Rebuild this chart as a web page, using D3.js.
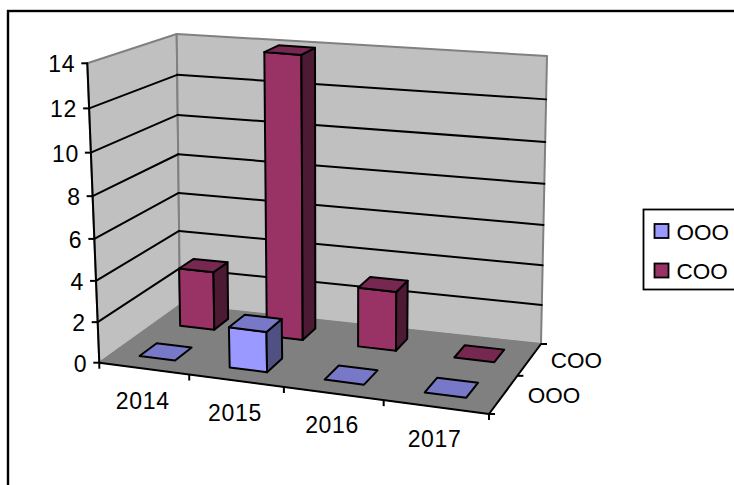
<!DOCTYPE html>
<html>
<head>
<meta charset="utf-8">
<script src="https://cdn.jsdelivr.net/npm/d3@7"></script>
<style>
html,body{margin:0;padding:0;background:#fff;overflow:hidden}
svg{display:block}
text{font-family:"Liberation Sans",Arial,sans-serif;font-size:22.5px;fill:#000}
text.num{font-size:23px;letter-spacing:0.7px}
</style>
</head>
<body>
<svg width="734" height="485"></svg>
<script>
const years=["2014","2015","2016","2017"];
const seriesNames=["OOO","COO"];
const oooValues=[0,2,0,0];
const cooValues=[3,14,3,0];
const valueTicks=[0,2,4,6,8,10,12,14];
const colors={OOO:["#9999FF","#7878C8","#505082"],COO:["#993366","#772850","#4D1A33"]};

const svg=d3.select("svg");

//OUTER BORDER
svg.append("rect").attr("x",8).attr("y",11).attr("width",760).attr("height",520)
   .attr("fill","#fff").attr("stroke","#000").attr("stroke-width",2.4);

//SCALES (all run 0..1 inside the plot box)
const xBand=d3.scaleBand().domain(years).range([0,1]);
const zBand=d3.scaleBand().domain(seriesNames).range([0,1]);
const xBar=d3.scaleBand().domain(years).range([0,1]).paddingInner(0.6).paddingOuter(0.3);
const zBar=d3.scaleBand().domain(seriesNames).range([0,1]).paddingInner(0.6).paddingOuter(0.3);
const yScale=d3.scaleLinear().domain([0,14]).range([0,1]);

//corners of the 3d box on screen: c[x][depth][height]
const c=[[[[99.3,362.7],[87.3,63.3]],[[180,305],[176.7,34]]],
         [[[489,414],[493.6,110]],[[541,344],[547,56]]]];
const warp=(t,k)=>k*t/(1+(k-1)*t);
function project(x,z,y){
   const u=warp(x,0.9), v=warp(z,1.2), w=warp(y,0.94);
   const p=[0,1].map(i=>d3.interpolate(
      d3.interpolate(
         d3.interpolate(c[0][0][0][i],c[1][0][0][i])(u),
         d3.interpolate(c[0][1][0][i],c[1][1][0][i])(u))(v),
      d3.interpolate(
         d3.interpolate(c[0][0][1][i],c[1][0][1][i])(u),
         d3.interpolate(c[0][1][1][i],c[1][1][1][i])(u))(v))(w));
   return p;
}
const poly=pts=>d3.line()(pts.map(d=>project(d[0],d[1],d[2])))+"Z";
const seg=(g,a,b,color,width)=>{
   const p=project(...a), q=project(...b);
   g.append("line").attr("x1",p[0]).attr("y1",p[1]).attr("x2",q[0]).attr("y2",q[1])
    .attr("stroke",color).attr("stroke-width",width).attr("stroke-linecap","round");
};

//WALLS AND FLOOR
const walls=svg.append("g");
walls.append("path").attr("d",poly([[0,0,0],[0,1,0],[0,1,1],[0,0,1]]))
     .attr("fill","#C0C0C0").attr("stroke","#808080").attr("stroke-width",2).attr("stroke-linejoin","round");
walls.append("path").attr("d",poly([[0,1,0],[1,1,0],[1,1,1],[0,1,1]]))
     .attr("fill","#C0C0C0").attr("stroke","#808080").attr("stroke-width",2).attr("stroke-linejoin","round");
walls.append("path").attr("d",poly([[0,0,0],[1,0,0],[1,1,0],[0,1,0]]))
     .attr("fill","#808080").attr("stroke","#808080").attr("stroke-width",1);

//GRIDLINES
const grid=svg.append("g");
valueTicks.slice(1,-1).forEach(t=>{
   seg(grid,[0,0,yScale(t)],[0,1,yScale(t)],"#000",2);
   seg(grid,[0,1,yScale(t)],[1,1,yScale(t)],"#000",2);
});

//AXES
const axes=svg.append("g");
seg(axes,[0,0,0],[0,0,1],"#000",2);
seg(axes,[0,0,0],[1,0,0],"#000",2);
seg(axes,[1,0,0],[1,1,0],"#000",2);

//Y TICKS
valueTicks.forEach(t=>{
   const p=project(0,0,yScale(t));
   axes.append("line").attr("x1",p[0]-6).attr("y1",p[1]).attr("x2",p[0]).attr("y2",p[1])
       .attr("stroke","#000").attr("stroke-width",2);
   svg.append("text").attr("class","num").attr("x",p[0]-12).attr("y",p[1]+9).attr("text-anchor","end").text(t);
});

//X TICKS
[0,1,2,3,4].forEach(i=>{
   const p=project(i/4,0,0);
   axes.append("line").attr("x1",p[0]).attr("y1",p[1]).attr("x2",p[0]).attr("y2",p[1]+6)
       .attr("stroke","#000").attr("stroke-width",2);
});
years.forEach(d=>{
   const p=project(xBand(d)+xBand.bandwidth()/2,0,0);
   svg.append("text").attr("class","num").attr("x",p[0]-1).attr("y",p[1]+40).attr("text-anchor","middle").text(d);
});

//DEPTH TICKS
[0,1,2].forEach(i=>{
   const p=project(1,i/2,0);
   axes.append("line").attr("x1",p[0]).attr("y1",p[1]).attr("x2",p[0]+6).attr("y2",p[1])
       .attr("stroke","#000").attr("stroke-width",2);
});
const depthLabelDx=d3.scalePoint().domain(seriesNames).range([24,21]);
seriesNames.forEach(d=>{
   const p=project(1,zBand(d)+zBand.bandwidth()/2,0);
   svg.append("text").attr("x",p[0]+depthLabelDx(d)).attr("y",p[1]+9).text(d);
});

//BARS, back series first
const bars=svg.append("g");
const seriesValues={OOO:oooValues,COO:cooValues};
seriesNames.slice().reverse().forEach(name=>{
   years.forEach((yr,i)=>{
      const x0=xBar(yr), x1=x0+xBar.bandwidth();
      const z0=zBar(name), z1=z0+zBar.bandwidth();
      const h=yScale(seriesValues[name][i]);
      const col=colors[name];
      const faces=[
         {pts:[[x0,z0,0],[x1,z0,0],[x1,z0,h],[x0,z0,h]],fill:col[0]},
         {pts:[[x1,z0,0],[x1,z1,0],[x1,z1,h],[x1,z0,h]],fill:col[2]},
         {pts:[[x0,z0,h],[x1,z0,h],[x1,z1,h],[x0,z1,h]],fill:col[1]}
      ];
      bars.selectAll(null).data(h>0?faces:faces.slice(2)).enter().append("path")
          .attr("d",d=>poly(d.pts)).attr("fill",d=>d.fill)
          .attr("stroke","#000").attr("stroke-width",2).attr("stroke-linejoin","round");
   });
});

//LEGEND
const legend=svg.append("g");
legend.append("rect").attr("x",643.5).attr("y",209.5).attr("width",110).attr("height",80)
      .attr("fill","#fff").attr("stroke","#000").attr("stroke-width",1.8);
const legendY=d3.scalePoint().domain(seriesNames).range([231,270.5]);
seriesNames.forEach(d=>{
   legend.append("rect").attr("x",654.5).attr("y",legendY(d)-7).attr("width",14).attr("height",14)
         .attr("fill",colors[d][0]).attr("stroke","#000").attr("stroke-width",1.8);
   legend.append("text").attr("x",676.5).attr("y",legendY(d)+8.5).text(d);
});
</script>
</body>
</html>
